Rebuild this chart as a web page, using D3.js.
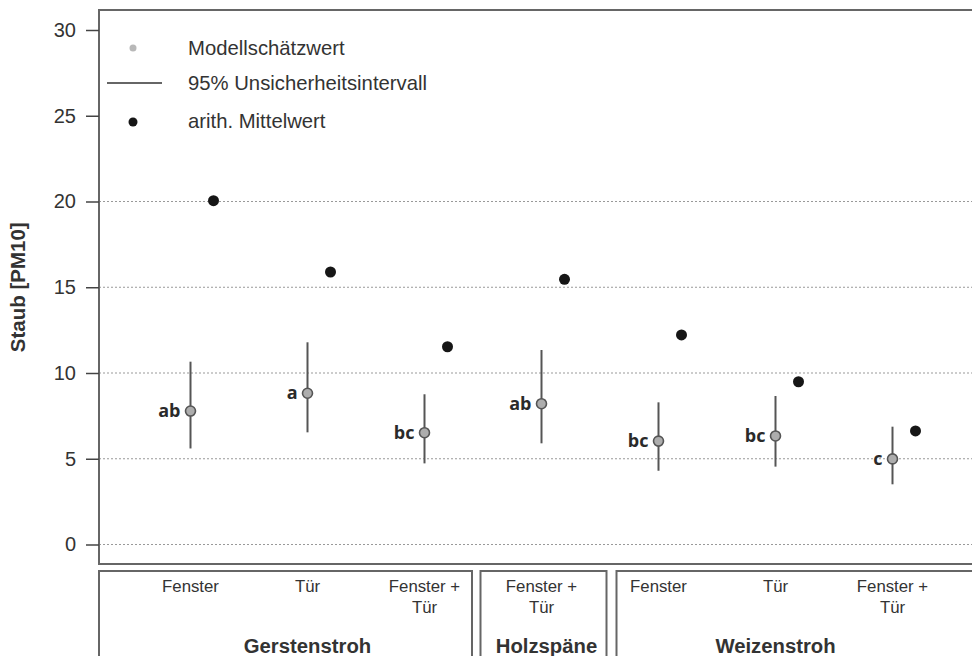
<!DOCTYPE html>
<html><head><meta charset="utf-8">
<script src="https://cdn.jsdelivr.net/npm/d3@7"></script>
<style>body{margin:0;background:#fff}svg{display:block}</style>
</head><body>
<svg id="c" width="972" height="656"></svg>
<script>
const groups = ["Gerstenstroh","Holzspäne","Weizenstroh"];
const categories = [["Fenster"],["Tür"],["Fenster +","Tür"],["Fenster +","Tür"],["Fenster"],["Tür"],["Fenster +","Tür"]];
const groupOf = [0,0,0,1,2,2,2];
const estimate = [7.78, 8.82, 6.52, 8.21, 6.03, 6.33, 4.99];
const ciLow = [5.6, 6.54, 4.73, 5.9, 4.30, 4.54, 3.51];
const ciHigh = [10.66, 11.79, 8.76, 11.34, 8.29, 8.66, 6.87];
const means = [20.05, 15.89, 11.53, 15.46, 12.22, 9.49, 6.62];
const letters = ["ab","a","bc","ab","bc","bc","c"];
const yTicks = [0,5,10,15,20,25,30];
const gridTicks = [0,5,10,15,20];
const legendLabels = ["Modellschätzwert","95% Unsicherheitsintervall","arith. Mittelwert"];

const svg = d3.select("#c");
const L = 99, T = 10, B = 564, R = 985;
const y = d3.scaleLinear().domain([0,30]).range([544.5, 30]);
const x = d3.scaleLinear().domain([0,6]).range([190.5, 892.5]);
const font = "'Liberation Sans', Arial, sans-serif";

// grid
svg.append("g").selectAll("line").data(gridTicks).join("line")
  .attr("x1", L).attr("x2", R).attr("y1", d=>y(d)).attr("y2", d=>y(d))
  .attr("stroke", "#999").attr("stroke-width", 1).attr("stroke-dasharray", "2,2");

// frame
svg.append("rect").attr("x", L).attr("y", T).attr("width", R-L).attr("height", B-T)
  .attr("fill", "none").attr("stroke", "#666").attr("stroke-width", 2);

// y axis
const yAxis = d3.axisLeft(y).tickValues(yTicks).tickSize(13).tickPadding(10);
const ga = svg.append("g").attr("transform", `translate(${L},0)`).call(yAxis);
ga.select(".domain").remove();
ga.selectAll(".tick line").attr("stroke", "#444").attr("stroke-width", 1.5);
ga.selectAll(".tick text").attr("font-family", font).attr("font-size", 20).attr("fill", "#333");

svg.append("text").attr("transform", `translate(25,${y(15)}) rotate(-90)`)
  .attr("text-anchor", "middle").attr("font-family", font).attr("font-weight", "bold")
  .attr("font-size", 20.5).attr("fill", "#333").text("Staub [PM10]");

// CI
const idx = d3.range(estimate.length);
svg.append("g").selectAll("line").data(idx).join("line")
  .attr("x1", i=>x(i)).attr("x2", i=>x(i)).attr("y1", i=>y(ciLow[i])).attr("y2", i=>y(ciHigh[i]))
  .attr("stroke", "#555").attr("stroke-width", 2);
// estimates
svg.append("g").selectAll("circle").data(idx).join("circle")
  .attr("cx", i=>x(i)).attr("cy", i=>y(estimate[i])).attr("r", 5)
  .attr("fill", "#adadad").attr("stroke", "#555").attr("stroke-width", 1.6);
// means
svg.append("g").selectAll("circle").data(idx).join("circle")
  .attr("cx", i=>x(i)+23).attr("cy", i=>y(means[i])).attr("r", 5.5).attr("fill", "#161616");
// letters
svg.append("g").selectAll("text").data(idx).join("text")
  .attr("x", i=>x(i)-10).attr("y", i=>y(estimate[i])+6)
  .attr("text-anchor", "end").attr("font-family", "'Open Sans', sans-serif").attr("font-weight", 700)
  .attr("font-size", 18).attr("fill", "#2a2a2a").text(i=>letters[i]);

// legend
const lg = svg.append("g");
lg.append("circle").attr("cx", 133).attr("cy", 48).attr("r", 3.5).attr("fill", "#b8b8b8");
lg.append("line").attr("x1", 107).attr("x2", 162).attr("y1", 83).attr("y2", 83).attr("stroke", "#333").attr("stroke-width", 1.5);
lg.append("circle").attr("cx", 133).attr("cy", 122).attr("r", 4.5).attr("fill", "#161616");
lg.selectAll("text").data(legendLabels).join("text")
  .attr("x", 188).attr("y", (d,i)=>[55, 90, 128][i])
  .attr("font-family", font).attr("font-size", 20.3).attr("fill", "#333").text(d=>d);

// strip panels
const boxes = [[L, x(2)+47.5],[x(3)-61, x(3)+65],[x(4)-42, R]];
svg.append("g").selectAll("rect").data(boxes).join("rect")
  .attr("x", d=>d[0]).attr("y", 571).attr("width", d=>d[1]-d[0]).attr("height", 100)
  .attr("fill", "none").attr("stroke", "#666").attr("stroke-width", 2);

const ct = svg.append("g").selectAll("text").data(idx).join("text")
  .attr("x", i=>x(i)).attr("y", 592).attr("text-anchor", "middle")
  .attr("font-family", font).attr("font-size", 16.8).attr("fill", "#333");
ct.selectAll("tspan").data(i=>categories[i].map(s=>({s, i}))).join("tspan")
  .attr("x", d=>x(d.i)).attr("dy", (d,k)=>k? 21 : 0).text(d=>d.s);

const groupCenter = [1,3,5];
svg.append("g").selectAll("text").data(groups).join("text")
  .attr("x", (d,g)=>x(groupCenter[g]) + (g===1?5:0)).attr("y", 653).attr("text-anchor", "middle")
  .attr("font-family", font).attr("font-weight", "bold").attr("font-size", 20.3).attr("fill", "#333").text(d=>d);
</script>
</body></html>
